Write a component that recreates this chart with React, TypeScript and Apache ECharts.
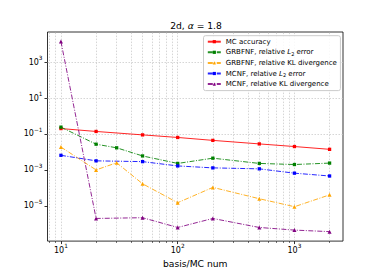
import React, { useEffect, useRef } from 'react';
import * as echarts from 'echarts';

// ---- data ----
const X_MC = [10, 20, 50, 100, 200, 500, 1000, 2000];
const X_GRB = [10, 20, 30, 50, 100, 200, 500, 1000, 2000];
const MC_ACCURACY = [0.2, 0.138, 0.089, 0.064, 0.044, 0.028, 0.02, 0.014];
const GRBFNF_L2 = [0.24, 0.027, 0.017, 0.006, 0.0023, 0.0045, 0.0023, 0.002, 0.0024];
const GRBFNF_KL = [0.0187, 0.001, 0.0025, 1.7e-4, 1.5e-5, 1.07e-4, 2.5e-5, 9e-6, 4.1e-5];
const MCNF_L2 = [0.0065, 0.0032, 0.0029, 0.00167, 0.0013, 0.00115, 0.00066, 0.00046];
const MCNF_KL = [13800, 2e-6, 2.2e-6, 6.3e-7, 2e-6, 6.3e-7, 4.5e-7, 3.7e-7];
const SERIES_NAMES = [
  'MC accuracy',
  'GRBFNF, relative L₂ error',
  'GRBFNF, relative KL divergence',
  'MCNF, relative L₂ error',
  'MCNF, relative KL divergence',
];
const X_NAME = 'basis/MC num';
const X_MAJOR = [10, 100, 1000];
const X_MINOR = [8, 9, 20, 30, 40, 50, 60, 70, 80, 90, 200, 300, 400, 500, 600, 700, 800, 900, 2000];
const Y_MAJOR = [1e-5, 1e-3, 1e-1, 1e1, 1e3];

const X_MIN = 7.67;
const X_MAX = 2606;
const Y_MIN = 1.1e-7;
const Y_MAX = 4.7e4;

const FONT = 'DejaVu Sans';

const pairs = (xs: number[], ys: number[]) => xs.map((x, i) => [x, ys[i]]);

const expLabel = (v: number) => {
  const e = Math.round(Math.log10(v));
  const s = e < 0 ? '\u2212' + String(-e) : String(e);
  return `{b|10}{s|${s}}`;
};

const axisRich = {
  b: { fontSize: 8, lineHeight: 14, verticalAlign: 'middle', fontFamily: FONT, color: '#000' },
  s: { fontSize: 5.8, lineHeight: 8, verticalAlign: 'top', fontFamily: FONT, color: '#000' },
};

const DASHDOT = [5, 1.5, 1, 1.5];

export default function App() {
  const ref = useRef<HTMLDivElement>(null);
  useEffect(() => {
    if (!ref.current) return;
    const chart = echarts.init(ref.current, null, { renderer: 'svg' });
    const gridLine = { color: '#c4c4c4', width: 0.7, type: [1.5, 1.5] };
    const mk = (name: string, xs: number[], ys: number[], color: string, symbol: string, size: number, dashed: boolean, extra: any = {}) => ({
      name,
      type: 'line',
      data: pairs(xs, ys),
      symbol,
      symbolSize: size,
      showSymbol: true,
      itemStyle: { color },
      lineStyle: { color, width: 1, type: dashed ? DASHDOT : 'solid', opacity: 0.85 },
      z: 3,
      ...extra,
    });
    const option: any = {
      animation: false,
      backgroundColor: '#fff',
      textStyle: { fontFamily: FONT },
      grid: {
        left: 47.5, right: 38, top: 32, bottom: 31,
        show: true, borderColor: '#000', borderWidth: 0.8, backgroundColor: 'transparent',
      },
      graphic: [
        {
          type: 'text', x: 196, y: 25.6, z: 10,
          style: {
            text: `2d, {i|α} = 1.8`,
            fontSize: 9.2, fontFamily: FONT, fill: '#000', align: 'center', verticalAlign: 'middle',
            rich: { i: { fontStyle: 'italic', fontSize: 9.2, fontFamily: FONT, fill: '#000' } },
          },
        },
      ],
      legend: {
        orient: 'vertical',
        left: 203.5, top: 35.7,
        padding: [2, 3.5, 2.5, 3.3],
        itemWidth: 13, itemHeight: 4, itemGap: 2.6,
        backgroundColor: 'rgba(255,255,255,0.85)',
        borderColor: '#cccccc', borderWidth: 1, borderRadius: 2,
        data: SERIES_NAMES,
        formatter: (name: string) => name.replace('L₂', '{i|L}{sub|2}'),
        textStyle: {
          fontSize: 7, lineHeight: 8, fontFamily: FONT, color: '#000',
          rich: {
            i: { fontStyle: 'italic', fontSize: 7, lineHeight: 8, fontFamily: FONT, color: '#000' },
            sub: { fontSize: 5, lineHeight: 5, verticalAlign: 'bottom', fontFamily: FONT, color: '#000' },
          },
        },
      },
      xAxis: [
        {
          type: 'log', min: X_MIN, max: X_MAX, gridIndex: 0, position: 'bottom',
          name: X_NAME, nameLocation: 'middle', nameGap: 16,
          nameTextStyle: { fontSize: 9.2, color: '#000', fontFamily: FONT },
          axisLine: { show: false },
          axisTick: { show: true, length: 3, customValues: X_MAJOR, lineStyle: { color: '#000', width: 0.8 } },
          axisLabel: { customValues: X_MAJOR, margin: 2, formatter: expLabel, rich: axisRich },
          splitLine: { show: false },
        },
        {
          type: 'log', min: X_MIN, max: X_MAX, gridIndex: 0, position: 'bottom', offset: 0,
          axisLine: { show: false },
          axisTick: { show: true, length: 1.8, customValues: X_MINOR, lineStyle: { color: '#000', width: 0.6 } },
          axisLabel: { show: false },
          splitLine: { show: false },
        },
      ],
      yAxis: {
        type: 'log', min: Y_MIN, max: Y_MAX,
        axisLine: { show: false },
        axisTick: { show: true, length: 3, customValues: Y_MAJOR, lineStyle: { color: '#000', width: 0.8 } },
        axisLabel: { customValues: Y_MAJOR, margin: 5, formatter: expLabel, rich: axisRich },
        splitLine: { show: false },
      },
      series: [
        mk(SERIES_NAMES[0], X_MC, MC_ACCURACY, '#ff0000', 'rect', 3.3, false, {
          markLine: {
            silent: true, z: 1, symbol: ['none', 'none'], label: { show: false },
            lineStyle: gridLine,
            data: [
              ...X_MAJOR.concat(X_MINOR).map((v) => ({ xAxis: v })),
              ...Y_MAJOR.map((v) => ({ yAxis: v })),
            ],
          },
        }),
        mk(SERIES_NAMES[1], X_GRB, GRBFNF_L2, '#008000', 'rect', 3.3, true),
        mk(SERIES_NAMES[2], X_GRB, GRBFNF_KL, '#ffa500', 'triangle', 4, true),
        mk(SERIES_NAMES[3], X_MC, MCNF_L2, '#0000ff', 'rect', 3.3, true),
        mk(SERIES_NAMES[4], X_MC, MCNF_KL, '#800080', 'triangle', 4, true),
      ],
    };
    chart.setOption(option);
    return () => chart.dispose();
  }, []);
  return (
    <div
      ref={ref}
      style={{ position: 'fixed', left: 0, top: 0, width: 381, height: 273 }}
    />
  );
}
